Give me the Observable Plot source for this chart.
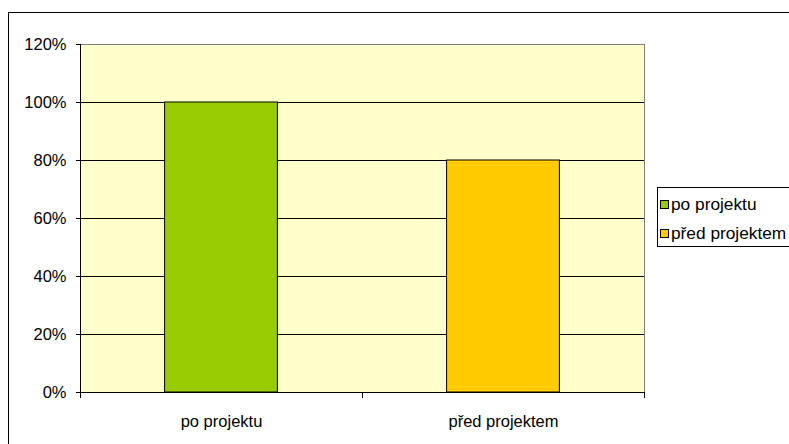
<!DOCTYPE html>
<html>
<head>
<meta charset="utf-8">
<script src="https://cdn.jsdelivr.net/npm/d3@7"></script>
<script src="https://cdn.jsdelivr.net/npm/@observablehq/plot@0.6"></script>
<style>
  html, body { margin: 0; padding: 0; background: #fff; overflow: hidden; }
  #wrap { position: relative; width: 789px; height: 444px; overflow: hidden; font-family: "Liberation Sans", Arial, sans-serif; }
  #border { position: absolute; left: 8px; top: 12px; width: 900px; height: 600px; border: 1.5px solid #000; box-sizing: border-box; }
  #chart { position: absolute; left: 0; top: 0; }
  #legend { position: absolute; left: 657px; top: 187px; width: 200px; height: 60px; border: 1px solid #000; background: #fff; box-sizing: border-box; font-size: 17.3px; color: #000; }
  .item { position: absolute; left: 2px; height: 22px; display: flex; align-items: center; white-space: nowrap; }
  .sw { width: 7px; height: 7px; border: 1px solid #000; margin-right: 2px; }
</style>
</head>
<body>
<div id="wrap">
  <div id="border"></div>
  <div id="chart"></div>
  <div id="legend"></div>
</div>
<script>
const categories = ["po projektu", "před projektem"];
const values = [1.0, 0.8];
const colors = ["#99CC00", "#FFCC00"];
const yTicks = [0, 0.2, 0.4, 0.6, 0.8, 1.0, 1.2];

const data = categories.map((name, i) => ({ name, i, value: values[i], color: colors[i] }));
const gap = 0.3;

const plot = Plot.plot({
  width: 789,
  height: 444,
  marginLeft: 80,
  marginRight: 145,
  marginTop: 44,
  marginBottom: 52,
  style: { fontFamily: "'Liberation Sans', Arial, sans-serif", fontSize: "16px", background: "transparent", color: "#000" },
  x: { type: "linear", domain: [0, categories.length], label: null },
  y: { domain: [0, 1.2], label: null },
  color: { type: "identity" },
  marks: [
    Plot.frame({ fill: "#FFFFCC", stroke: "#808080" }),
    Plot.ruleY(yTicks.filter(d => d > 0 && d < 1.2), { stroke: "#000", strokeWidth: 1 }),
    Plot.rectY(data, { x1: d => d.i + gap, x2: d => d.i + 1 - gap, y1: 0, y2: "value", fill: "color", stroke: "#000", strokeWidth: 1 }),
    Plot.ruleY([0], { stroke: "#000" }),
    Plot.ruleX([0], { stroke: "#000" }),
    Plot.axisY({ ticks: yTicks, tickFormat: d3.format(".0%"), tickSize: 4, tickPadding: 10, fontSize: 16.5, label: null }),
    Plot.axisX({ ticks: d3.range(0, categories.length + 1), tickSize: 6, tickFormat: () => "", stroke: "#000", label: null }),
    Plot.text(data, { x: d => d.i + 0.5, y: 0, text: "name", dy: 29, fontSize: 16.5, fill: "#000", textAnchor: "middle", lineAnchor: "middle" })
  ]
});
document.getElementById("chart").appendChild(plot);

const legend = document.getElementById("legend");
categories.forEach((name, i) => {
  const it = document.createElement("div");
  it.className = "item";
  it.style.top = (5 + i * 29) + "px";
  const sw = document.createElement("div");
  sw.className = "sw";
  sw.style.background = colors[i];
  const t = document.createElement("span");
  t.textContent = name;
  it.appendChild(sw);
  it.appendChild(t);
  legend.appendChild(it);
});
</script>
</body>
</html>
